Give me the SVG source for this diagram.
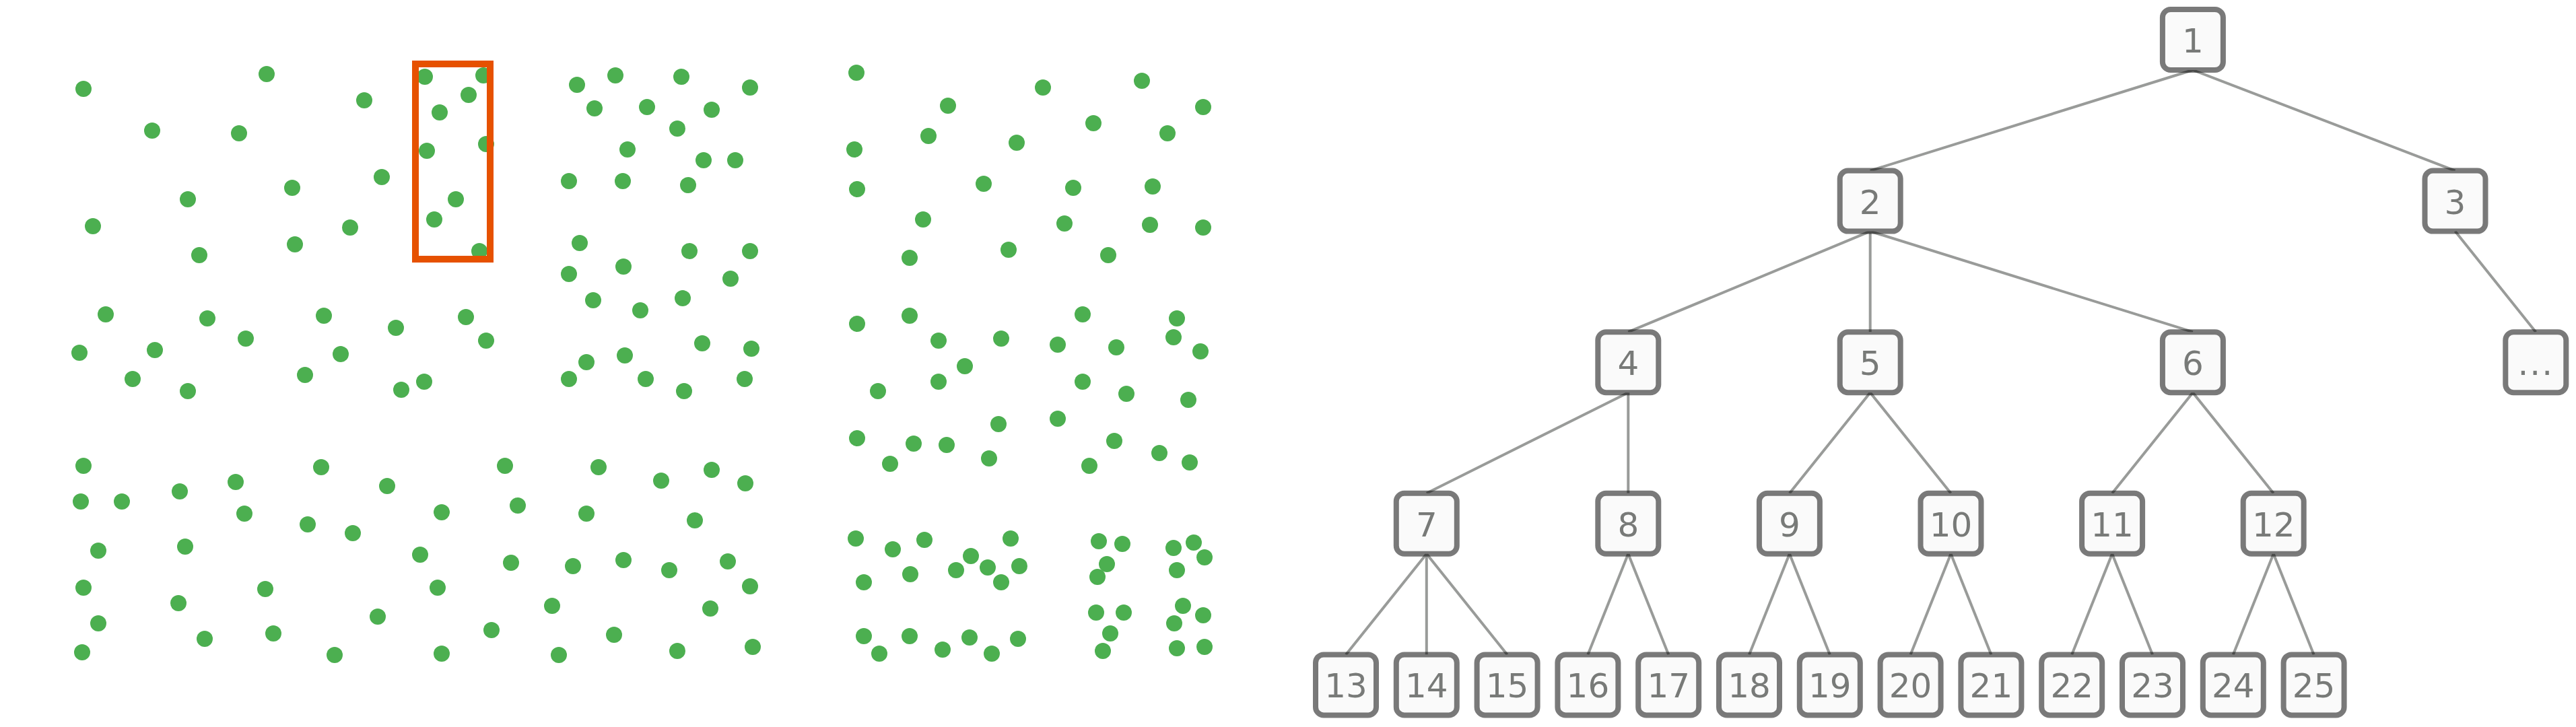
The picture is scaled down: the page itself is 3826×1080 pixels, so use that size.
<svg xmlns="http://www.w3.org/2000/svg" width="3826" height="1080" viewBox="0 0 3826 1080">
<style>
.dot{fill:#4CAF50}
.edge{stroke:#999b99;stroke-width:4;fill:none}
.box{fill:#fafafa;stroke:#000;stroke-opacity:0.52;stroke-width:8}
.lbl{font-family:"DejaVu Sans",Verdana,sans-serif;font-size:50px;fill:#787a78;text-anchor:middle}
</style>
<defs>
<circle id="d" r="12" class="dot"/>
<rect id="nb" x="-45" y="-45" width="90" height="90" rx="12" ry="12" class="box"/>
</defs>
<rect x="0" y="0" width="3826" height="1080" fill="#ffffff"/>
<g id="dots">
<use href="#d" x="124" y="132"/><use href="#d" x="396" y="110"/><use href="#d" x="541" y="149"/><use href="#d" x="631" y="114"/><use href="#d" x="718" y="112"/><use href="#d" x="696" y="141"/><use href="#d" x="653" y="167"/><use href="#d" x="634" y="224"/><use href="#d" x="722" y="214"/><use href="#d" x="226" y="194"/><use href="#d" x="355" y="198"/><use href="#d" x="567" y="263"/><use href="#d" x="434" y="279"/><use href="#d" x="279" y="296"/><use href="#d" x="138" y="336"/><use href="#d" x="520" y="338"/><use href="#d" x="677" y="296"/><use href="#d" x="645" y="326"/><use href="#d" x="438" y="363"/><use href="#d" x="296" y="379"/><use href="#d" x="712" y="373"/>
<use href="#d" x="157" y="467"/><use href="#d" x="308" y="473"/><use href="#d" x="481" y="469"/><use href="#d" x="588" y="487"/><use href="#d" x="692" y="471"/><use href="#d" x="722" y="506"/><use href="#d" x="118" y="524"/><use href="#d" x="230" y="520"/><use href="#d" x="365" y="503"/><use href="#d" x="506" y="526"/><use href="#d" x="197" y="563"/><use href="#d" x="279" y="581"/><use href="#d" x="453" y="557"/><use href="#d" x="596" y="579"/><use href="#d" x="630" y="567"/>
<use href="#d" x="857" y="126"/><use href="#d" x="914" y="112"/><use href="#d" x="1012" y="114"/><use href="#d" x="1114" y="130"/><use href="#d" x="883" y="161"/><use href="#d" x="961" y="159"/><use href="#d" x="1057" y="163"/><use href="#d" x="1006" y="191"/><use href="#d" x="932" y="222"/><use href="#d" x="1045" y="238"/><use href="#d" x="1092" y="238"/><use href="#d" x="845" y="269"/><use href="#d" x="925" y="269"/><use href="#d" x="1022" y="275"/>
<use href="#d" x="861" y="361"/><use href="#d" x="1024" y="373"/><use href="#d" x="1114" y="373"/><use href="#d" x="845" y="407"/><use href="#d" x="926" y="396"/><use href="#d" x="1085" y="414"/><use href="#d" x="881" y="446"/><use href="#d" x="951" y="461"/><use href="#d" x="1014" y="443"/><use href="#d" x="1043" y="510"/><use href="#d" x="1116" y="518"/><use href="#d" x="871" y="538"/><use href="#d" x="928" y="528"/><use href="#d" x="845" y="563"/><use href="#d" x="959" y="563"/><use href="#d" x="1016" y="581"/><use href="#d" x="1106" y="563"/>
<use href="#d" x="1272" y="108"/><use href="#d" x="1269" y="222"/><use href="#d" x="1273" y="281"/><use href="#d" x="1273" y="481"/><use href="#d" x="1304" y="581"/><use href="#d" x="1351" y="383"/><use href="#d" x="1351" y="469"/>
<use href="#d" x="1549" y="130"/><use href="#d" x="1696" y="120"/><use href="#d" x="1408" y="157"/><use href="#d" x="1787" y="159"/><use href="#d" x="1624" y="183"/><use href="#d" x="1379" y="202"/><use href="#d" x="1510" y="212"/><use href="#d" x="1734" y="198"/><use href="#d" x="1461" y="273"/><use href="#d" x="1594" y="279"/><use href="#d" x="1712" y="277"/><use href="#d" x="1371" y="326"/><use href="#d" x="1581" y="332"/><use href="#d" x="1708" y="334"/><use href="#d" x="1787" y="338"/><use href="#d" x="1498" y="371"/><use href="#d" x="1646" y="379"/><use href="#d" x="1608" y="467"/><use href="#d" x="1748" y="473"/><use href="#d" x="1394" y="506"/><use href="#d" x="1487" y="503"/><use href="#d" x="1571" y="512"/><use href="#d" x="1658" y="516"/><use href="#d" x="1743" y="501"/><use href="#d" x="1783" y="522"/><use href="#d" x="1433" y="544"/><use href="#d" x="1394" y="567"/><use href="#d" x="1608" y="567"/><use href="#d" x="1673" y="585"/><use href="#d" x="1765" y="594"/>
<use href="#d" x="124" y="692"/><use href="#d" x="477" y="694"/><use href="#d" x="750" y="692"/><use href="#d" x="120" y="745"/><use href="#d" x="181" y="745"/><use href="#d" x="267" y="730"/><use href="#d" x="350" y="716"/><use href="#d" x="363" y="763"/><use href="#d" x="575" y="722"/><use href="#d" x="656" y="761"/><use href="#d" x="769" y="751"/><use href="#d" x="457" y="779"/><use href="#d" x="524" y="792"/><use href="#d" x="146" y="818"/><use href="#d" x="275" y="812"/><use href="#d" x="624" y="824"/><use href="#d" x="759" y="836"/><use href="#d" x="124" y="873"/><use href="#d" x="265" y="896"/><use href="#d" x="394" y="875"/><use href="#d" x="650" y="873"/><use href="#d" x="561" y="916"/><use href="#d" x="146" y="926"/><use href="#d" x="304" y="949"/><use href="#d" x="406" y="941"/><use href="#d" x="730" y="936"/><use href="#d" x="122" y="969"/><use href="#d" x="497" y="973"/><use href="#d" x="656" y="971"/>
<use href="#d" x="889" y="694"/><use href="#d" x="982" y="714"/><use href="#d" x="1057" y="698"/><use href="#d" x="1107" y="718"/><use href="#d" x="871" y="763"/><use href="#d" x="1032" y="773"/><use href="#d" x="851" y="841"/><use href="#d" x="926" y="832"/><use href="#d" x="994" y="847"/><use href="#d" x="1081" y="834"/><use href="#d" x="1114" y="871"/><use href="#d" x="820" y="900"/><use href="#d" x="1055" y="904"/><use href="#d" x="912" y="943"/><use href="#d" x="830" y="973"/><use href="#d" x="1006" y="967"/><use href="#d" x="1118" y="961"/>
<use href="#d" x="1273" y="651"/><use href="#d" x="1357" y="659"/><use href="#d" x="1322" y="689"/><use href="#d" x="1271" y="800"/><use href="#d" x="1326" y="816"/><use href="#d" x="1352" y="853"/><use href="#d" x="1283" y="865"/><use href="#d" x="1283" y="945"/><use href="#d" x="1306" y="971"/><use href="#d" x="1351" y="945"/>
<use href="#d" x="1483" y="630"/><use href="#d" x="1571" y="622"/><use href="#d" x="1406" y="661"/><use href="#d" x="1469" y="681"/><use href="#d" x="1655" y="655"/><use href="#d" x="1618" y="692"/><use href="#d" x="1722" y="673"/><use href="#d" x="1767" y="687"/>
<use href="#d" x="1373" y="802"/><use href="#d" x="1442" y="826"/><use href="#d" x="1420" y="847"/><use href="#d" x="1467" y="843"/><use href="#d" x="1501" y="800"/><use href="#d" x="1514" y="841"/><use href="#d" x="1487" y="865"/>
<use href="#d" x="1632" y="804"/><use href="#d" x="1667" y="808"/><use href="#d" x="1644" y="838"/><use href="#d" x="1630" y="857"/>
<use href="#d" x="1743" y="814"/><use href="#d" x="1773" y="806"/><use href="#d" x="1789" y="828"/><use href="#d" x="1748" y="847"/>
<use href="#d" x="1400" y="965"/><use href="#d" x="1440" y="947"/><use href="#d" x="1473" y="971"/><use href="#d" x="1512" y="949"/>
<use href="#d" x="1628" y="910"/><use href="#d" x="1669" y="910"/><use href="#d" x="1649" y="941"/><use href="#d" x="1638" y="967"/>
<use href="#d" x="1757" y="900"/><use href="#d" x="1787" y="914"/><use href="#d" x="1744" y="926"/><use href="#d" x="1748" y="963"/><use href="#d" x="1789" y="961"/>
</g>
<rect id="selection" x="617" y="95" width="111" height="290" fill="none" stroke="#E65100" stroke-width="10"/>
<g id="connectors" class="edge">
<line x1="3256.9" y1="104" x2="2777.7" y2="253.6"/>
<line x1="3256.9" y1="104" x2="3646.5" y2="253.6"/>
<line x1="2777.7" y1="343.6" x2="2418.3" y2="493.2"/>
<line x1="2777.7" y1="343.6" x2="2777.7" y2="493.2"/>
<line x1="2777.7" y1="343.6" x2="3256.9" y2="493.2"/>
<line x1="3646.5" y1="343.6" x2="3766.3" y2="493.2"/>
<line x1="2418.3" y1="583.2" x2="2118.8" y2="732.8"/>
<line x1="2418.3" y1="583.2" x2="2418.3" y2="732.8"/>
<line x1="2777.7" y1="583.2" x2="2657.9" y2="732.8"/>
<line x1="2777.7" y1="583.2" x2="2897.5" y2="732.8"/>
<line x1="3256.9" y1="583.2" x2="3137.1" y2="732.8"/>
<line x1="3256.9" y1="583.2" x2="3376.7" y2="732.8"/>
<line x1="2118.8" y1="822.8" x2="1999" y2="972.4"/>
<line x1="2118.8" y1="822.8" x2="2118.8" y2="972.4"/>
<line x1="2118.8" y1="822.8" x2="2238.6" y2="972.4"/>
<line x1="2418.3" y1="822.8" x2="2358.4" y2="972.4"/>
<line x1="2418.3" y1="822.8" x2="2478.2" y2="972.4"/>
<line x1="2657.9" y1="822.8" x2="2598" y2="972.4"/>
<line x1="2657.9" y1="822.8" x2="2717.8" y2="972.4"/>
<line x1="2897.5" y1="822.8" x2="2837.6" y2="972.4"/>
<line x1="2897.5" y1="822.8" x2="2957.4" y2="972.4"/>
<line x1="3137.1" y1="822.8" x2="3077.2" y2="972.4"/>
<line x1="3137.1" y1="822.8" x2="3197" y2="972.4"/>
<line x1="3376.7" y1="822.8" x2="3316.8" y2="972.4"/>
<line x1="3376.7" y1="822.8" x2="3436.6" y2="972.4"/>
</g>
<g id="node-1" transform="translate(3256.9,59)"><use href="#nb"/><text class="lbl" y="19">1</text></g>
<g id="node-2" transform="translate(2777.7,298.6)"><use href="#nb"/><text class="lbl" y="19">2</text></g>
<g id="node-3" transform="translate(3646.5,298.6)"><use href="#nb"/><text class="lbl" y="19">3</text></g>
<g id="node-4" transform="translate(2418.3,538.2)"><use href="#nb"/><text class="lbl" y="19">4</text></g>
<g id="node-5" transform="translate(2777.7,538.2)"><use href="#nb"/><text class="lbl" y="19">5</text></g>
<g id="node-6" transform="translate(3256.9,538.2)"><use href="#nb"/><text class="lbl" y="19">6</text></g>
<g id="node-more" transform="translate(3766.3,538.2)"><use href="#nb"/><text class="lbl" y="19" letter-spacing="2">...</text></g>
<g id="node-7" transform="translate(2118.8,777.8)"><use href="#nb"/><text class="lbl" y="19">7</text></g>
<g id="node-8" transform="translate(2418.3,777.8)"><use href="#nb"/><text class="lbl" y="19">8</text></g>
<g id="node-9" transform="translate(2657.9,777.8)"><use href="#nb"/><text class="lbl" y="19">9</text></g>
<g id="node-10" transform="translate(2897.5,777.8)"><use href="#nb"/><text class="lbl" y="19">10</text></g>
<g id="node-11" transform="translate(3137.1,777.8)"><use href="#nb"/><text class="lbl" y="19">11</text></g>
<g id="node-12" transform="translate(3376.7,777.8)"><use href="#nb"/><text class="lbl" y="19">12</text></g>
<g id="node-13" transform="translate(1999,1017.4)"><use href="#nb"/><text class="lbl" y="19">13</text></g>
<g id="node-14" transform="translate(2118.8,1017.4)"><use href="#nb"/><text class="lbl" y="19">14</text></g>
<g id="node-15" transform="translate(2238.6,1017.4)"><use href="#nb"/><text class="lbl" y="19">15</text></g>
<g id="node-16" transform="translate(2358.4,1017.4)"><use href="#nb"/><text class="lbl" y="19">16</text></g>
<g id="node-17" transform="translate(2478.2,1017.4)"><use href="#nb"/><text class="lbl" y="19">17</text></g>
<g id="node-18" transform="translate(2598,1017.4)"><use href="#nb"/><text class="lbl" y="19">18</text></g>
<g id="node-19" transform="translate(2717.8,1017.4)"><use href="#nb"/><text class="lbl" y="19">19</text></g>
<g id="node-20" transform="translate(2837.6,1017.4)"><use href="#nb"/><text class="lbl" y="19">20</text></g>
<g id="node-21" transform="translate(2957.4,1017.4)"><use href="#nb"/><text class="lbl" y="19">21</text></g>
<g id="node-22" transform="translate(3077.2,1017.4)"><use href="#nb"/><text class="lbl" y="19">22</text></g>
<g id="node-23" transform="translate(3197,1017.4)"><use href="#nb"/><text class="lbl" y="19">23</text></g>
<g id="node-24" transform="translate(3316.8,1017.4)"><use href="#nb"/><text class="lbl" y="19">24</text></g>
<g id="node-25" transform="translate(3436.6,1017.4)"><use href="#nb"/><text class="lbl" y="19">25</text></g>
</svg>
